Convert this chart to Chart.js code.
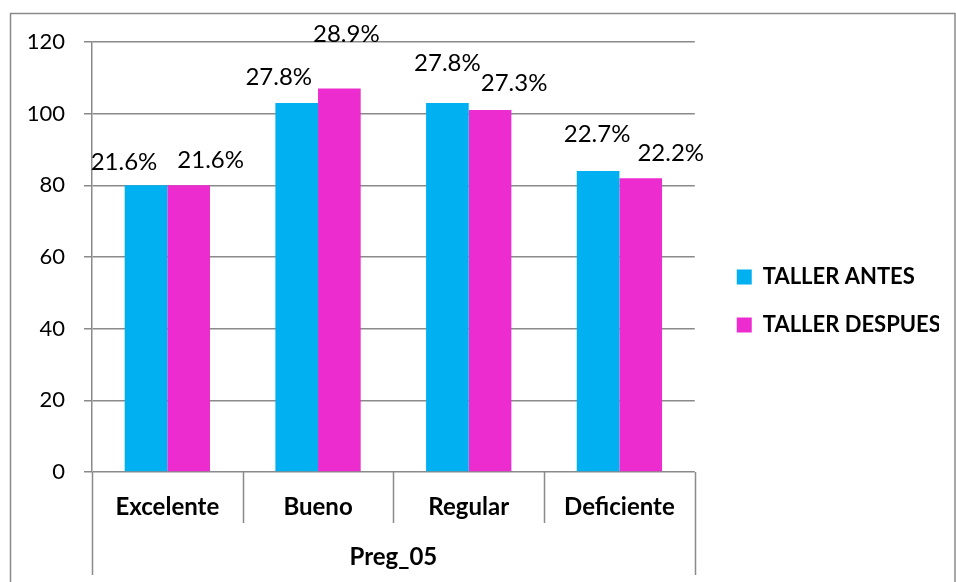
<!DOCTYPE html>
<html>
<head>
<meta charset="utf-8">
<script src="https://cdn.jsdelivr.net/npm/chart.js@4/dist/chart.umd.min.js"></script>
<style>
  html, body { margin: 0; padding: 0; background: #fff; }
  #wrap { width: 956px; height: 582px; }
</style>
</head>
<body>
<div id="wrap"><canvas id="chart" width="956" height="582"></canvas></div>
<script>
const categories = ["Excelente", "Bueno", "Regular", "Deficiente"];
const seriesNames = ["TALLER ANTES", "TALLER DESPUES"];
const antes = [80, 103, 103, 84];
const despues = [80, 107, 101, 82];
const antesLabels = ["21.6%", "27.8%", "27.8%", "22.7%"];
const despuesLabels = ["21.6%", "28.9%", "27.3%", "22.2%"];
const yTicks = [0, 20, 40, 60, 80, 100, 120];
const axisTitle = "Preg_05";

const FONT = "Lato";
const GRID = "#8a8a8a";

// percentage labels, nudged by hand like in the original
const barLabels = {
  id: "barLabels",
  afterDatasetsDraw(chart, args, opts) {
    const ctx = chart.ctx;
    ctx.save();
    ctx.font = opts.size + "px " + FONT;
    ctx.fillStyle = "#000";
    ctx.textAlign = "center";
    ctx.textBaseline = "middle";
    chart.data.datasets.forEach((ds, di) => {
      chart.getDatasetMeta(di).data.forEach((bar, i) => {
        const off = opts.offsets[di][i];
        ctx.fillText(ds.pctLabels[i], bar.x + off[0], bar.y + off[1]);
      });
    });
    ctx.restore();
  }
};

// move the legend a bit away from the plot
const legendShift = {
  id: "legendShift",
  afterLayout(chart, args, opts) {
    const lg = chart.legend;
    lg.left += opts.dx; lg.right += opts.dx;
    lg.top += opts.dy; lg.bottom += opts.dy;
  }
};

// category boxes under the axis and the outer chart frame
const frame = {
  id: "frame",
  afterDraw(chart) {
    const ctx = chart.ctx;
    const x = chart.scales.x;
    const area = chart.chartArea;
    const step = (area.right - area.left) / categories.length;
    ctx.save();
    ctx.strokeStyle = GRID;
    ctx.lineWidth = 1.5;
    ctx.beginPath();
    for (let i = 0; i <= categories.length; i++) {
      const px = Math.round(area.left + i * step) + 0.5;
      const end = (i === 0 || i === categories.length) ? x.bottom - 7 : area.bottom + 51;
      ctx.moveTo(px, area.bottom);
      ctx.lineTo(px, end);
    }
    ctx.stroke();
    ctx.strokeRect(10.5, 13.5, 944.5, 580);
    ctx.restore();
  }
};

new Chart(document.getElementById("chart"), {
  type: "bar",
  data: {
    labels: categories,
    datasets: [
      { label: seriesNames[0], data: antes, pctLabels: antesLabels, backgroundColor: "#00B0F0" },
      { label: seriesNames[1], data: despues, pctLabels: despuesLabels, backgroundColor: "#EC2CCF" }
    ]
  },
  options: {
    responsive: false,
    animation: false,
    layout: { padding: { left: 10, top: 42, right: 33, bottom: 0 } },
    datasets: { bar: { categoryPercentage: 0.566, barPercentage: 1 } },
    plugins: {
      legend: {
        position: "right",
        align: "center",
        labels: {
          boxWidth: 15, boxHeight: 15, padding: 26,
          color: "#000",
          font: { family: FONT, size: 22, weight: "bold" }
        }
      },
      legendShift: { dx: 16, dy: -11 },
      tooltip: { enabled: false },
      barLabels: {
        size: 24,
        offsets: [
          [[-22, -23], [-18, -26], [0, -40], [-1, -37]],
          [[22, -25], [7, -54], [24, -27], [30, -25]]
        ]
      }
    },
    scales: {
      x: {
        grid: { display: false, drawTicks: false },
        border: { display: false },
        ticks: { color: "#000", padding: 21, font: { family: FONT, size: 24, weight: "bold" } },
        title: { display: true, text: axisTitle, color: "#000", padding: { top: 0, bottom: 10 },
                 font: { family: FONT, size: 24, weight: "bold" } },
        afterFit: (s) => { s.height = 110; }
      },
      y: {
        min: 0, max: 120,
        afterBuildTicks: (s) => { s.ticks = yTicks.map(v => ({ value: v })); },
        grid: { color: GRID, lineWidth: 1.5, tickLength: 8 },
        border: { color: GRID, width: 1.5 },
        ticks: { color: "#000", padding: 19, font: { family: FONT, size: 22 } },
        afterFit: (s) => { s.width = 82; }
      }
    }
  },
  plugins: [barLabels, legendShift, frame]
});
</script>
</body>
</html>
